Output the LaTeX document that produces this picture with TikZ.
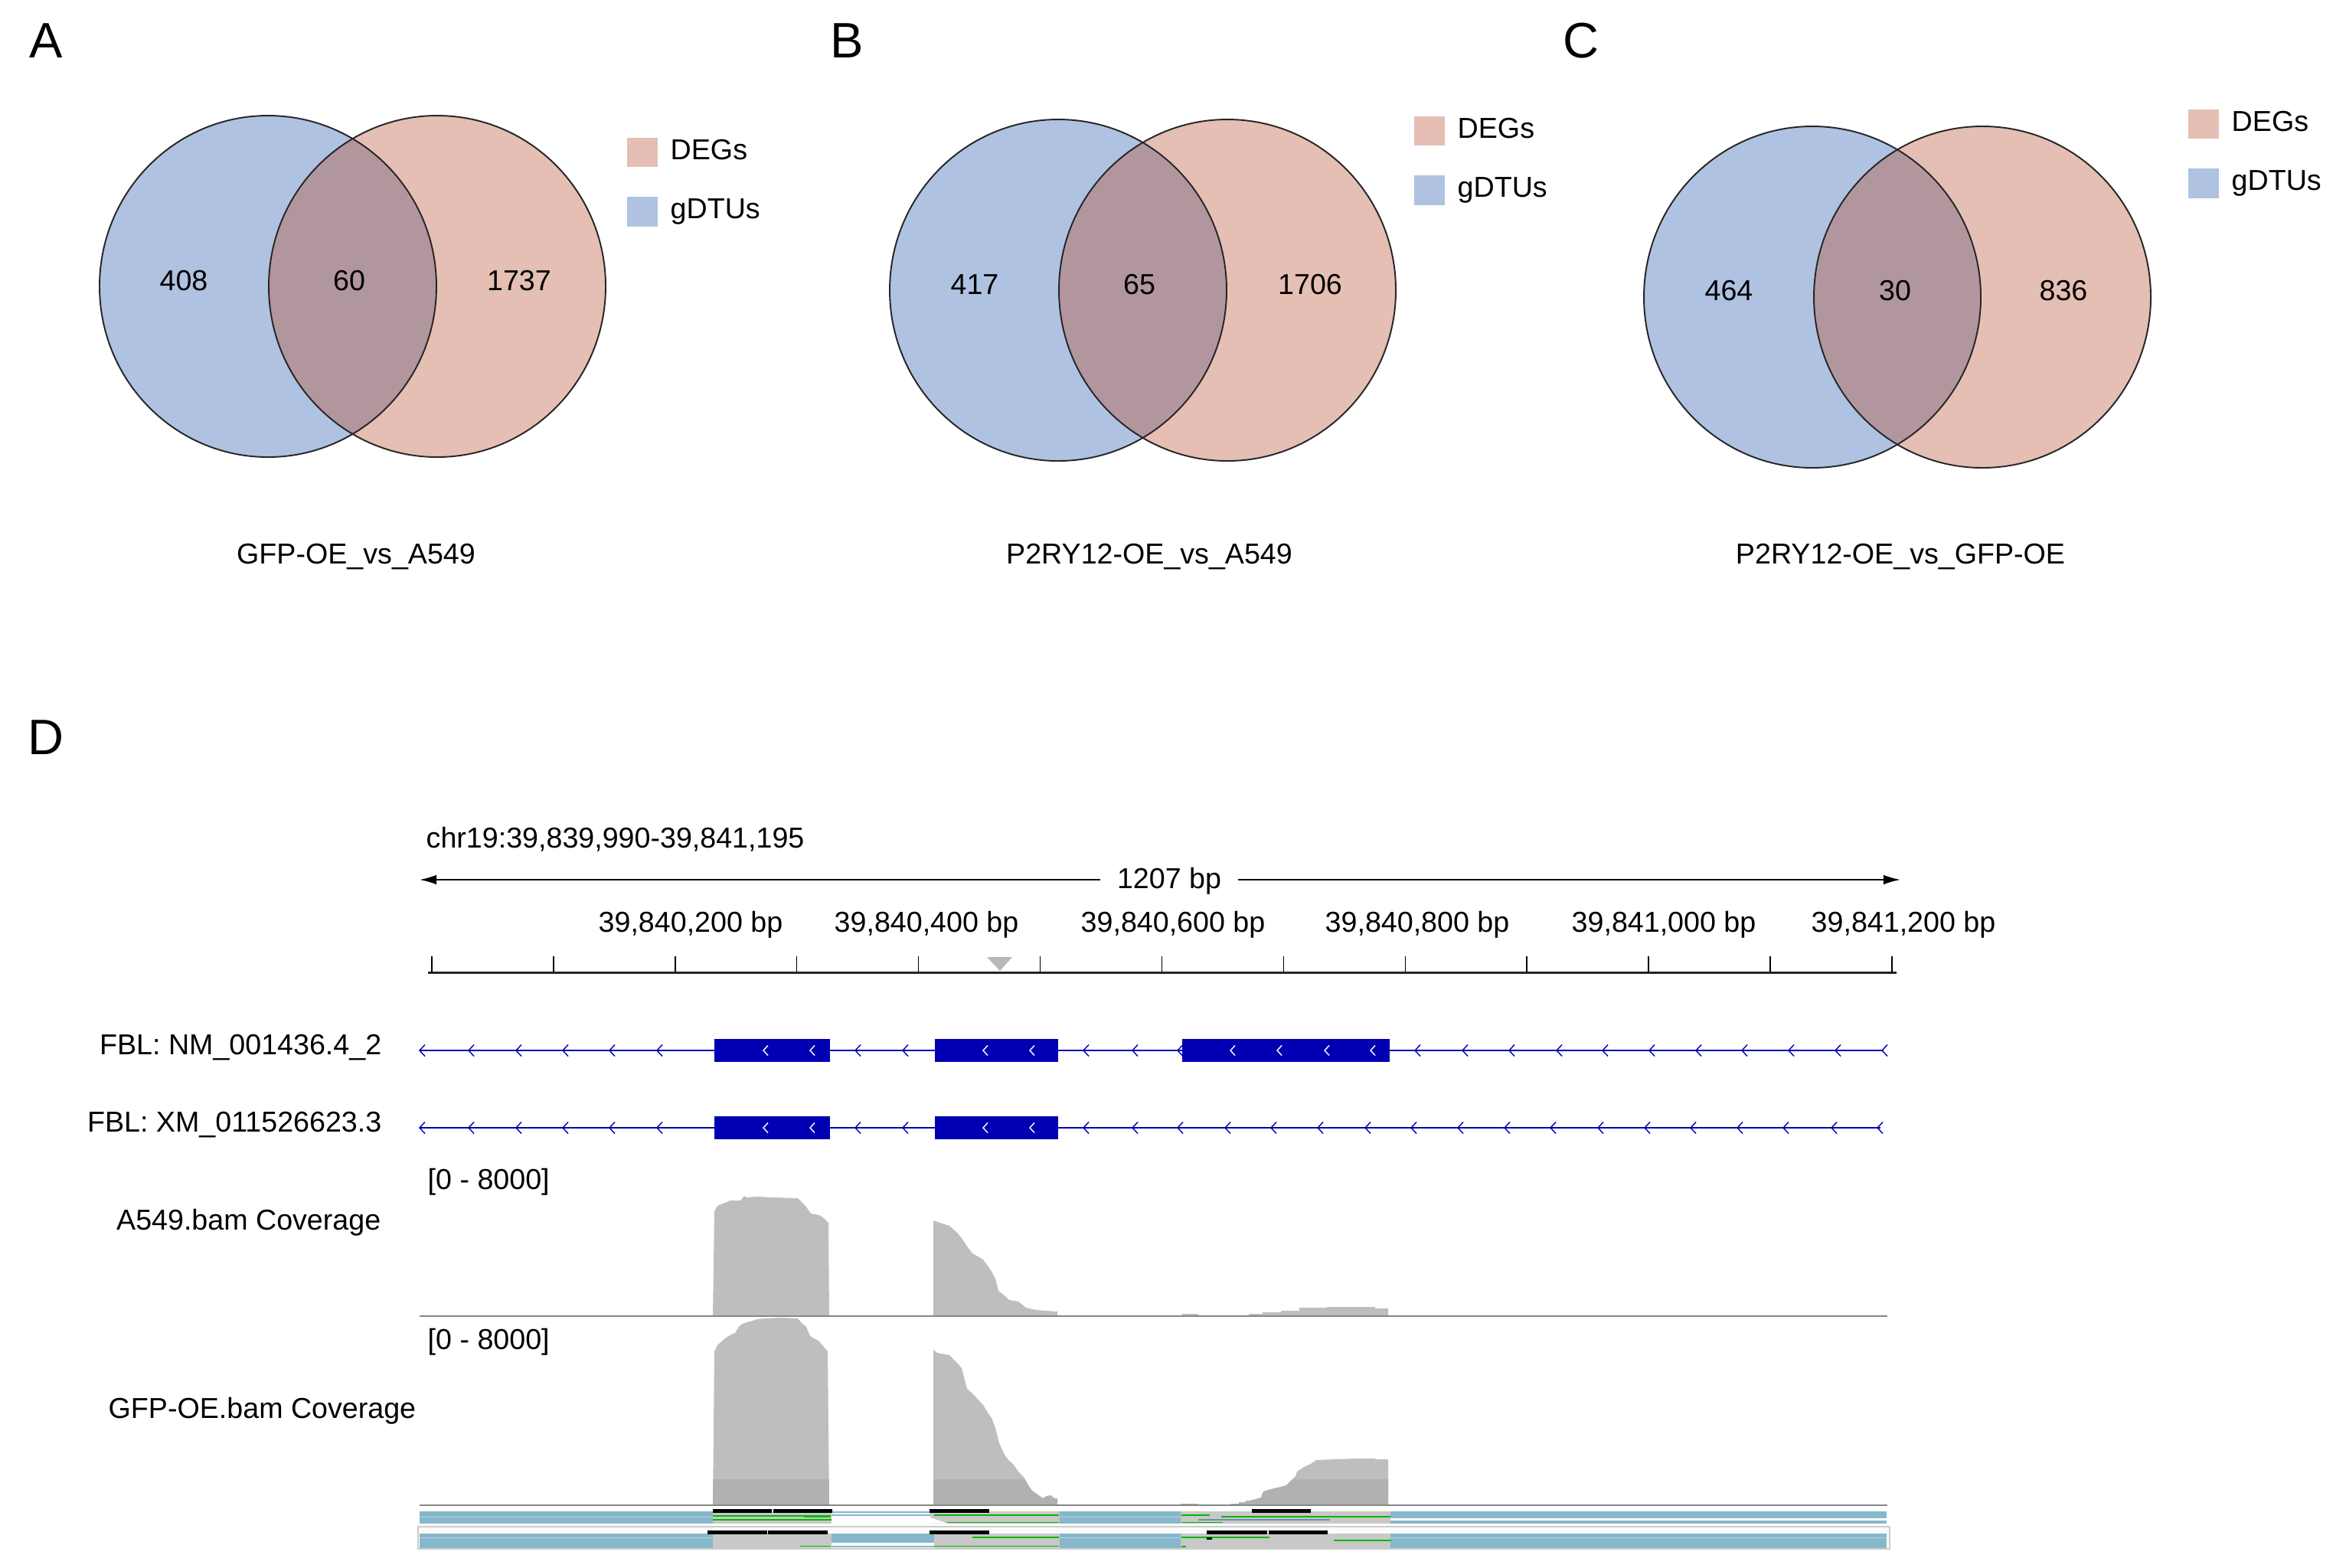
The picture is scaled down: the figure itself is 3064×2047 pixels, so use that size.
\documentclass[tikz,border=0pt]{standalone}
\usepackage{fontspec}
\setmainfont{Liberation Sans}
\usetikzlibrary{arrows.meta}

\definecolor{vennblue}{RGB}{176,194,225}
\definecolor{vennpink}{RGB}{229,191,180}
\definecolor{vennmix}{RGB}{178,150,158}
\definecolor{igvblue}{RGB}{0,0,178}
\definecolor{covgray}{RGB}{190,190,190}
\definecolor{covdark}{RGB}{177,177,177}
\definecolor{axisgray}{RGB}{135,135,135}
\definecolor{readgray}{RGB}{200,200,200}
\definecolor{readblue}{RGB}{135,183,203}
\definecolor{readgreen}{RGB}{0,185,0}

\begin{document}
\begin{tikzpicture}[x=0.01cm,y=-0.01cm]
        \tikzstyle{txt}=[font=\fontsize{10.7}{12.8}\selectfont, inner sep=0pt, anchor=base]
        \tikzstyle{ticklbl}=[font=\fontsize{10.7}{12.8}\selectfont, inner sep=0pt, anchor=base]
        \tikzstyle{panellabel}=[font=\fontsize{18.5}{22}\selectfont, inner sep=0pt, anchor=base west]
        \tikzstyle{vline}=[draw=black!85, line width=0.55pt]
        \tikzstyle{legendsq}=[minimum width=11.3pt, minimum height=11pt, inner sep=0pt]
        \tikzstyle{intron}=[draw=igvblue, line width=0.7pt]
        \tikzstyle{chev}=[line width=0.4pt]
        \tikzstyle{covbase}=[draw=axisgray, line width=0.8pt]
        \tikzstyle{scalearrow}=[-{Latex[length=6.3pt,width=3.6pt]}, line width=0.55pt]
        \tikzstyle{gread}=[draw=readgreen, line width=0.45pt]
        \fill[white] (0,0) rectangle (3064,2047);
        \useasboundingbox (0,0) rectangle (3064,2047);

        % Venn panels
        \foreach \p/\px/\lx/\rx/\cy/\ny/\na/\nb/\nc/\xa/\xb/\xc/\kx/\ky/\ttl/\tx in {
            A/38/350/571/374/379/408/60/1737/240/456/678/839/199/{GFP-OE\_vs\_A549}/465,
            B/1084/1382/1603/379/384/417/65/1706/1273/1488/1711/1867/171/{P2RY12-OE\_vs\_A549}/1501,
            C/2041/2367/2589/388/392/464/30/836/2258/2475/2695/2878/162/{P2RY12-OE\_vs\_GFP-OE}/2482}
        {
          \node[panellabel] (lbl\p) at (\px,75) {\p};
          \fill[vennblue] (\lx,\cy) ellipse [x radius=220, y radius=223];
          \fill[vennpink] (\rx,\cy) ellipse [x radius=220, y radius=223];
          \begin{scope}
            \clip (\lx,\cy) ellipse [x radius=220, y radius=223];
            \fill[vennmix] (\rx,\cy) ellipse [x radius=220, y radius=223];
          \end{scope}
          \draw[vline] (\lx,\cy) ellipse [x radius=220, y radius=223];
          \draw[vline] (\rx,\cy) ellipse [x radius=220, y radius=223];
          \node[txt] (only\p) at (\xa,\ny) {\na};
          \node[txt] (both\p) at (\xb,\ny) {\nb};
          \node[txt] (deg\p) at (\xc,\ny) {\nc};
          \node[legendsq, fill=vennpink] (keydeg\p) at (\kx,\ky) {};
          \node[legendsq, fill=vennblue] (keydtu\p) at (\kx,\ky+77.5) {};
          \node[txt, anchor=base west] (txtdeg\p) at (\kx+36,\ky+9) {DEGs};
          \node[txt, anchor=base west] (txtdtu\p) at (\kx+36,\ky+86.5) {gDTUs};
          \node[txt] (title\p) at (\tx,736) {\ttl};
        }

        % panel D: locus and ruler
        \node[panellabel] (lblD) at (36,985) {D};
        \node[txt, anchor=base west] (locus) at (556,1107) {chr19:39,839,990-39,841,195};
        \node[ticklbl, inner xsep=6pt] (span) at (1527,1160) {1207 bp};
        \coordinate (spanL) at (548,1149);
        \coordinate (spanR) at (2482,1149);
        \draw[scalearrow] (span.west |- spanL) -- (spanL);
        \draw[scalearrow] (span.east |- spanR) -- (spanR);
        \node[ticklbl] (t200) at (902,1217) {39,840,200 bp};
        \node[ticklbl] (t400) at (1210,1217) {39,840,400 bp};
        \node[ticklbl] (t600) at (1532,1217) {39,840,600 bp};
        \node[ticklbl] (t800) at (1851,1217) {39,840,800 bp};
        \node[ticklbl] (t1000) at (2173,1217) {39,841,000 bp};
        \node[ticklbl] (t1200) at (2486,1217) {39,841,200 bp};
        \draw[line width=0.85pt, black!85] (559,1270) -- (2477,1270);
        \foreach \k in {0,...,12}
          \draw[line width=0.4pt] (564+158.9*\k,1249) -- (564+158.9*\k,1270);
        \fill[black!28] (1289,1250) -- (1322,1250) -- (1306,1268) -- cycle;

        % gene tracks
        \node[txt, anchor=base east] (nm) at (499,1377) {FBL: NM\_001436.4\_2};
        \node[txt, anchor=base east] (xm) at (499,1478) {FBL: XM\_011526623.3};
        \draw[intron] (548,1372) -- (2460,1372);
        \draw[intron] (548,1473) -- (2456,1473);
        \foreach \x in {548,612,674,735,796,858,1117,1179,1415,1479,1538,1848,1910,1971,2033,2093,2154,2215,2275,2336,2397,2458}
          \draw[chev, igvblue] (\x+7,1364.5) -- (\x,1372) -- (\x+7,1379.5);
        \foreach \x in {548,612,674,735,796,858,1117,1179,1415,1479,1538,1600,1660,1721,1783,1843,1904,1965,2025,2087,2148,2208,2269,2329,2392,2452}
          \draw[chev, igvblue] (\x+7,1465.5) -- (\x,1473) -- (\x+7,1480.5);
        \fill[igvblue] (933,1357) rectangle (1084,1387);
        \fill[igvblue] (1221,1357) rectangle (1382,1387);
        \fill[igvblue] (1544,1357) rectangle (1815,1387);
        \fill[igvblue] (933,1458) rectangle (1084,1488);
        \fill[igvblue] (1221,1458) rectangle (1382,1488);
        \foreach \x in {997,1058,1284,1345,1607,1668,1730,1790}
          \draw[chev, white] (\x+6,1365.5) -- (\x,1372) -- (\x+6,1378.5);
        \foreach \x in {997,1058,1284,1345}
          \draw[chev, white] (\x+6,1466.5) -- (\x,1473) -- (\x+6,1479.5);

        % coverage A549
        \node[txt, anchor=base west] (rangeA) at (558,1553) {[0 - 8000]};
        \node[txt, anchor=base east] (a549) at (498,1606) {A549.bam Coverage};
        \fill[covgray] (931,1719) -- (933,1582) -- (937,1575) -- (947,1571) -- (954,1568) -- (967,1568)
          -- (972,1562) -- (975,1564) -- (988,1563) -- (1010,1564) -- (1042,1565) -- (1047,1570)
          -- (1052,1575) -- (1059,1585) -- (1070,1587) -- (1077,1592) -- (1082,1597) -- (1083,1719) -- cycle;
        \fill[covgray] (1219,1719) -- (1219,1594) -- (1224,1596) -- (1240,1601) -- (1250,1610) -- (1256,1617)
          -- (1263,1628) -- (1270,1637) -- (1284,1645) -- (1294,1659) -- (1300,1670) -- (1304,1686)
          -- (1312,1692) -- (1318,1698) -- (1330,1700) -- (1340,1708) -- (1353,1711) -- (1381,1713) -- (1381,1719) -- cycle;
        \fill[covgray] (1544,1719) rectangle (1565,1716);
        \fill[covgray] (1631,1719) -- (1631,1716) -- (1649,1716) -- (1649,1714) -- (1673,1714) -- (1673,1712)
          -- (1697,1712) -- (1697,1708) -- (1733,1708) -- (1733,1707) -- (1796,1707) -- (1796,1709)
          -- (1813,1709) -- (1813,1719) -- cycle;
        \draw[covbase] (548,1719) -- (2465,1719);

        % coverage GFP-OE
        \def\gfpcov{(931,1966) -- (933,1765) -- (937,1757) -- (947,1748) -- (955,1743) -- (960,1741) -- (965,1733)
          -- (968,1730) -- (975,1727) -- (980,1726) -- (989,1723) -- (1000,1722) -- (1020,1721) -- (1042,1722)
          -- (1047,1728) -- (1053,1733) -- (1058,1745) -- (1063,1748) -- (1070,1752) -- (1075,1758)
          -- (1081,1765) -- (1083,1966) -- cycle
          (1219,1966) -- (1219,1763) -- (1224,1767) -- (1240,1770) -- (1250,1780) -- (1256,1787) -- (1263,1814)
          -- (1270,1820) -- (1284,1835) -- (1290,1845) -- (1295,1852) -- (1300,1865) -- (1305,1885)
          -- (1312,1900) -- (1318,1908) -- (1323,1912) -- (1330,1922) -- (1337,1929) -- (1343,1940)
          -- (1348,1947) -- (1355,1952) -- (1362,1957) -- (1367,1954) -- (1372,1953) -- (1377,1957)
          -- (1381,1957) -- (1381,1966) -- cycle
          (1542,1966) -- (1542,1964) -- (1565,1964) -- (1565,1966) -- (1607,1966) -- (1607,1964) -- (1618,1964)
          -- (1618,1962) -- (1627,1962) -- (1627,1960) -- (1632,1960) -- (1640,1958) -- (1647,1956)
          -- (1650,1948) -- (1660,1945) -- (1673,1942) -- (1680,1940) -- (1687,1933) -- (1692,1928)
          -- (1694,1922) -- (1700,1918) -- (1705,1915) -- (1712,1912) -- (1719,1907) -- (1743,1906)
          -- (1770,1905) -- (1796,1905) -- (1796,1906) -- (1813,1906) -- (1813,1966) -- cycle}
        \node[txt, anchor=base west] (rangeG) at (558,1762) {[0 - 8000]};
        \node[txt, anchor=base west] (gfp) at (141,1852) {GFP-OE.bam Coverage};
        \fill[covgray] \gfpcov;
        \begin{scope}
          \clip \gfpcov;
          \fill[covdark] (900,1932) rectangle (1850,1966);
        \end{scope}
        \draw[covbase] (548,1966) -- (2465,1966);

        % reads, first row
        \fill[readblue] (548,1974) rectangle (931,1989.5);
        \fill[readgray] (931,1974) rectangle (1086,1989.5);
        \draw[readblue, line width=0.35pt] (1086,1975) -- (1215,1975) (1086,1979) -- (1215,1979);
        \fill[readgray] (1215,1974) rectangle (1384,1989.5);
        \fill[white] (1215,1982) -- (1237,1989.5) -- (1215,1989.5) -- cycle;
        \fill[readblue] (1384,1974) rectangle (1542,1989.5);
        \fill[readgray] (1542,1974) rectangle (1816,1989.5);
        \fill[readblue] (1816,1974) rectangle (2464,1983);
        \fill[readblue] (1816,1986) rectangle (2464,1990);
        \draw[white!40!readblue, line width=0.3pt] (548,1981.5) -- (931,1981.5) (1384,1981.5) -- (1542,1981.5);
        \draw[gread] (931,1980) -- (1050,1980) (931,1985) -- (1086,1985) (1220,1979) -- (1383,1979)
          (1237,1988.5) -- (1383,1988.5) (1543,1979) -- (1580,1979) (1595,1981) -- (1816,1981)
          (1543,1988.5) -- (1597,1988.5);
        \fill[readgreen] (1050,1978.5) rectangle (1085,1982);
        \draw[readblue!80!black, line width=0.35pt] (1565,1985) -- (1737,1985);
        \fill[black] (931,1971) rectangle (1008,1975.5);
        \fill[black] (1010,1971) rectangle (1087,1975.5);
        \fill[black] (1214,1971) rectangle (1292,1975.5);
        \fill[black] (1635,1971) rectangle (1712,1975.5);

        % reads, second row
        \draw[black!20, fill=black!2, line width=0.5pt] (546,1994) rectangle (2468,2023);
        \fill[readblue] (548,2003) rectangle (931,2022);
        \fill[readgray] (931,2003) rectangle (1086,2022);
        \fill[readblue] (1086,2003) rectangle (1220,2015);
        \draw[readblue, line width=0.5pt] (1086,2020) -- (1220,2020);
        \fill[readgray] (1220,2003) rectangle (1384,2022);
        \fill[readblue] (1384,2003) rectangle (1542,2022);
        \fill[readgray] (1542,2003) rectangle (1816,2022);
        \fill[readblue] (1816,2003) rectangle (2464,2022);
        \draw[white!40!readblue, line width=0.3pt] (548,2008) -- (931,2008) (1384,2008) -- (1542,2008)
          (1816,2008) -- (2464,2008);
        \draw[gread] (1045,2019.5) -- (1085,2019.5) (1270,2008) -- (1383,2008) (1220,2019.5) -- (1383,2019.5)
          (1543,2008) -- (1658,2008) (1742,2012) -- (1817,2012) (1543,2020) -- (1549,2020);
        \fill[black] (924,1999) rectangle (1002,2004);
        \fill[black] (1003,1999) rectangle (1081,2004);
        \fill[black] (1214,1999) rectangle (1292,2004);
        \fill[black] (1576,1999) rectangle (1655,2004);
        \fill[black] (1657,1999) rectangle (1734,2004);
        \fill[black] (1576,2008) rectangle (1583,2011);
      \end{tikzpicture}
\end{document}
